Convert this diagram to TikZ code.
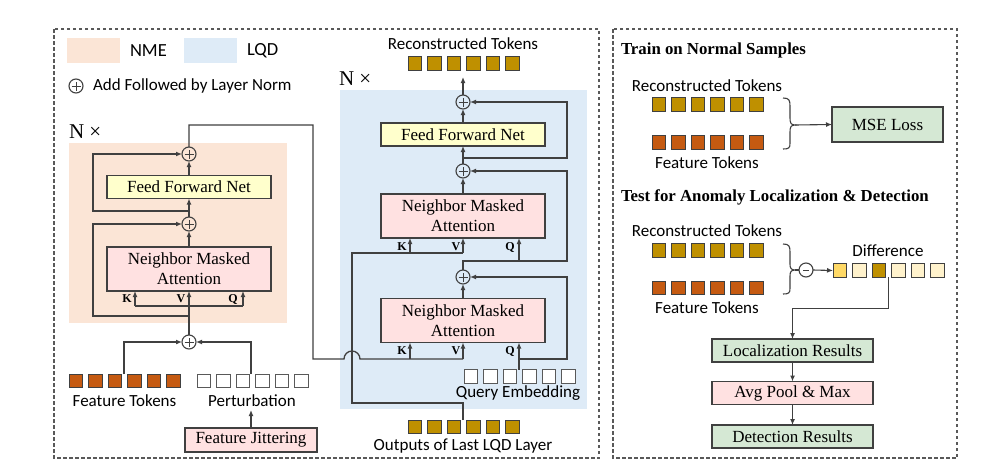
\documentclass[tikz,border=0pt]{standalone}
\usepackage{fontspec}
\setmainfont{Liberation Serif}
\newfontfamily\sansf{Carlito}
\usetikzlibrary{arrows.meta,calc}
\definecolor{nmebg}{HTML}{FBE5D6}
\definecolor{lqdbg}{HTML}{DEEBF7}
\definecolor{ffnc}{HTML}{FFFFCC}
\definecolor{nmac}{HTML}{FFE1E1}
\definecolor{grnc}{HTML}{D5E8D4}
\definecolor{goldc}{HTML}{BF9000}
\definecolor{orgc}{HTML}{C55A11}
\definecolor{lyel}{HTML}{FFF2CC}
\definecolor{myel}{HTML}{FFD966}
\definecolor{linec}{HTML}{404040}
\definecolor{dashc}{HTML}{595959}
\newcommand\tokrow[5]{%
  \foreach \i in {1,...,6} {\node[tok, fill=#4, draw=#5] (#1\i) at ({#2+6.75+(\i-1)*19.5},#3) {};}}
\begin{document}
\begin{tikzpicture}[x=1pt,y=-1pt,
  every node/.style={inner sep=0pt, outer sep=0pt},
  ln/.style={draw=linec, line width=1.3pt},
  arr/.style={ln, -{Latex[length=6pt,width=5pt]}},
  box/.style={draw=linec, line width=1.4pt, minimum width=164pt, minimum height=23pt,
              font=\fontsize{17}{20}\selectfont, align=center},
  ffnbox/.style={box, fill=ffnc},
  nmabox/.style={box, fill=nmac, minimum height=44pt},
  pinkbox/.style={box, fill=nmac},
  grnbox/.style={box, fill=grnc},
  tok/.style={line width=1pt, minimum size=13.5pt},
  stxt/.style={font=\sansf\fontsize{17}{18}\selectfont},
  kvq/.style={font=\bfseries\fontsize{12}{12}\selectfont},
  nx/.style={font=\fontsize{21}{21}\selectfont, anchor=west},
  ttl/.style={font=\bfseries\fontsize{16.8}{18}\selectfont, anchor=west},
  dbox/.style={draw=dashc, line width=1.2pt, dash pattern=on 3.5pt off 2.5pt},
  addn/.style={circle, draw=linec, line width=1.1pt, minimum size=14pt,
    path picture={\draw[line width=1pt] ([xshift=-4.5pt]path picture bounding box.center) -- ([xshift=4.5pt]path picture bounding box.center);
                  \draw[line width=1pt] ([yshift=-4.5pt]path picture bounding box.center) -- ([yshift=4.5pt]path picture bounding box.center);}},
  subn/.style={circle, draw=linec, line width=1.1pt, minimum size=14pt,
    path picture={\draw[line width=1pt] ([xshift=-3pt]path picture bounding box.center) -- ([xshift=3pt]path picture bounding box.center);}}
]
\useasboundingbox (0,0) rectangle (985,474);
\fill[white] (0,0) rectangle (985,474);

% outer dashed panels
\draw[dbox] (54,29) rectangle (599,458);
\draw[dbox] (613,29) rectangle (957,458);

% legend
\fill[nmebg] (67,38) rectangle (120,63);
\node[stxt, font=\sansf\fontsize{18.5}{19}\selectfont, anchor=west] (lnme) at (130,51) {NME};
\fill[lqdbg] (184,38) rectangle (237,63);
\node[stxt, font=\sansf\fontsize{18.5}{19}\selectfont, anchor=west] (llqd) at (247,51) {LQD};
\node[addn] (ladd) at (76,86) {};
\node[stxt, anchor=west] (laddt) at (93,86) {Add Followed by Layer Norm};

% backgrounds
\fill[nmebg] (69,143) rectangle (287,323);
\fill[lqdbg] (340,90) rectangle (587,409);
\node[nx] (nx0) at (69,132) {N ×};
\node[nx] (nx1) at (339,79) {N ×};

% ---------------- NME ----------------
\node[nmabox] (nma0) at (189,269) {Neighbor Masked\\Attention};
\node[ffnbox] (ffn0) at (189,187) {Feed Forward Net};
\node[addn] (a01) at (189,154) {};
\node[addn] (a02) at (189,224) {};
\node[addn] (a0in) at (189,342) {};
\node[kvq] (k0l) at (127,299) {K};
\node[kvq] (v0l) at (181,299) {V};
\node[kvq] (q0l) at (233,299) {Q};

\coordinate (k0) at (135,306);
\coordinate (q0) at (243,306);
\draw[arr] (a0in.north) -- (nma0.south);
\draw[ln] (k0) -- (q0);
\draw[arr] (k0) -- (k0 |- nma0.south);
\draw[arr] (q0) -- (q0 |- nma0.south);
\coordinate (r01) at (189,316);
\coordinate (r02) at (189,211);
\draw[arr] (r01) -- ++(-96,0) |- (a02.west);
\draw[arr] (r02) -- ++(-96,0) |- (a01.west);
\draw[arr] (nma0.north) -- (a02.south);
\draw[arr] (a02.north) -- (ffn0.south);
\draw[arr] (ffn0.north) -- (a01.south);

% inputs
\tokrow{ft}{69}{381}{orgc}{linec}
\tokrow{pt}{197}{381}{white}{dashc}
\node[stxt] (ftl) at (124.5,401) {Feature Tokens};
\node[stxt] (ptl) at (252,401) {Perturbation};
\node[pinkbox, minimum width=132pt, minimum height=24pt] (fj) at (251,440) {Feature Jittering};
\coordinate (ftc) at (124,374);
\coordinate (ptc) at (251,374);
\draw[arr] (ftc) |- (a0in.west);
\draw[arr] (ptc) |- (a0in.east);
\draw[arr] (fj.north) -- ++(0,-18);

% ---------------- LQD ----------------
\node[ffnbox] (ffn1) at (463,134.5) {Feed Forward Net};
\node[nmabox] (nma1) at (463,216) {Neighbor Masked\\Attention};
\node[nmabox] (nma2) at (463,320.5) {Neighbor Masked\\Attention};
\node[addn] (a1) at (463,102) {};
\node[addn] (a2) at (463,171) {};
\node[addn] (a3) at (463,277) {};
\node[kvq] (k1l) at (402,247) {K};
\node[kvq] (v1l) at (456,247) {V};
\node[kvq] (q1l) at (510,247) {Q};
\node[kvq] (k2l) at (402,351) {K};
\node[kvq] (v2l) at (456,351) {V};
\node[kvq] (q2l) at (510,351) {Q};

\tokrow{rc}{408}{63.5}{goldc}{linec}
\node[stxt] (rcl) at (463,44) {Reconstructed Tokens};
\tokrow{qe}{464}{376.5}{white}{dashc}
\node[stxt] (qel) at (518,393) {Query Embedding};
\tokrow{lo}{408}{427}{goldc}{linec}
\node[stxt] (lol) at (463,446) {Outputs of Last LQD Layer};

% NME output to K,V of lower NMA (with hop)
\coordinate (o1) at (189,125);
\coordinate (o2) at (313,125);
\coordinate (o3) at (313,359);
\coordinate (hopA) at (344,359);
\coordinate (v2b) at (463,359);
\coordinate (k2b) at (410,359);
\draw[ln] (a01.north) -- (o1) -- (o2) -- (o3) -- (hopA) arc[start angle=180, end angle=0, radius=8pt] -- (v2b);
\draw[arr] (v2b) -- (v2b |- nma2.south);
\draw[arr] (k2b) -- (k2b |- nma2.south);

% query embedding to Q and residual
\coordinate (qet) at (519,369.75);
\coordinate (qeb) at (519,359);
\coordinate (qer) at (567,359);
\draw[arr] (qet) -- (qet |- nma2.south);
\draw[arr] (qeb) -- (qer) |- (a3.east);
\draw[arr] (nma2.north) -- (a3.south);

% a3 output to Q of upper NMA and residual
\coordinate (a3t) at (463,261);
\coordinate (a3r) at (567,261);
\coordinate (q1b) at (519,261);
\draw[arr] (a3.north) -- (a3t) -- (a3r) |- (a2.east);
\draw[arr] (q1b) -- (q1b |- nma1.south);

% last LQD layer outputs to K,V of upper NMA
\coordinate (lot) at (463,420);
\coordinate (l1) at (463,403);
\coordinate (l2) at (352,403);
\coordinate (l3) at (352,253);
\coordinate (v1b) at (463,253);
\coordinate (k1b) at (410,253);
\draw[ln] (lot) -- (l1) -- (l2) -- (l3) -- (v1b);
\draw[arr] (v1b) -- (v1b |- nma1.south);
\draw[arr] (k1b) -- (k1b |- nma1.south);

\draw[arr] (nma1.north) -- (a2.south);
\draw[arr] (a2.north) -- (ffn1.south);
\coordinate (r11) at (463,158);
\draw[arr] (r11) -- (567,158) |- (a1.east);
\draw[arr] (ffn1.north) -- (a1.south);
\coordinate (rct) at (463,77);
\draw[arr] (a1.north) -- (rct);

% ---------------- right panel ----------------
\node[ttl] (t1) at (621,50) {Train on Normal Samples};
\node[stxt] (rl1) at (707,86) {Reconstructed Tokens};
\tokrow{g}{652}{104.5}{goldc}{linec}
\tokrow{o}{652}{142.5}{orgc}{linec}
\node[stxt] (fl1) at (707,163) {Feature Tokens};
\draw[ln, line width=1.1pt] (783,98) .. controls (789,98) and (790,100) .. (790,106) -- (790,118)
   .. controls (790,123) and (791,125) .. (795,125) .. controls (791,125) and (790,127) .. (790,132)
   -- (790,143) .. controls (790,148) and (789,149) .. (783,149);
\coordinate (b1) at (795,125);
\node[grnbox, minimum width=111pt, minimum height=35pt] (mse) at (887.5,124.5) {MSE Loss};
\draw[arr, line width=1.1pt] (b1) -- (mse.west);

\node[ttl] (t2) at (621,197) {Test for Anomaly Localization \& Detection};
\node[stxt] (rl2) at (707,231) {Reconstructed Tokens};
\tokrow{gg}{652}{250.5}{goldc}{linec}
\tokrow{oo}{652}{288}{orgc}{linec}
\node[stxt] (fl2) at (707,308) {Feature Tokens};
\draw[ln, line width=1.1pt] (783,244) .. controls (789,244) and (790,246) .. (790,252) -- (790,264)
   .. controls (790,268) and (791,270) .. (795,270) .. controls (791,270) and (790,272) .. (790,276)
   -- (790,288) .. controls (790,293) and (789,294) .. (783,294);
\coordinate (b2) at (795,270);
\node[subn] (sub) at (806,270) {};
\draw[ln, line width=1.1pt] (b2) -- (sub.west);
\foreach \i/\c in {1/myel,2/lyel,3/goldc,4/lyel,5/lyel,6/lyel}
  {\node[tok, fill=\c, draw=linec] (d\i) at ({833+6.75+(\i-1)*19.5},270.5) {};}
\draw[arr, line width=1.1pt] (sub.east) -- (d1.west);
\node[stxt] (dl) at (888,251) {Difference};

\node[grnbox, minimum width=161pt] (loc) at (792.5,350.5) {Localization Results};
\node[pinkbox, minimum width=161pt] (avg) at (792.5,393) {Avg Pool \& Max};
\node[grnbox, minimum width=161pt] (det) at (792.5,436.5) {Detection Results};
\coordinate (dd) at ($(d3.south east)!0.5!(d4.south west)$);
\coordinate (dd2) at ($(dd)+(0,31)$);
\draw[arr] (dd) -- (dd2) -| (loc.north);
\draw[arr] (loc.south) -- (avg.north);
\draw[arr] (avg.south) -- (det.north);
\end{tikzpicture}
\end{document}
